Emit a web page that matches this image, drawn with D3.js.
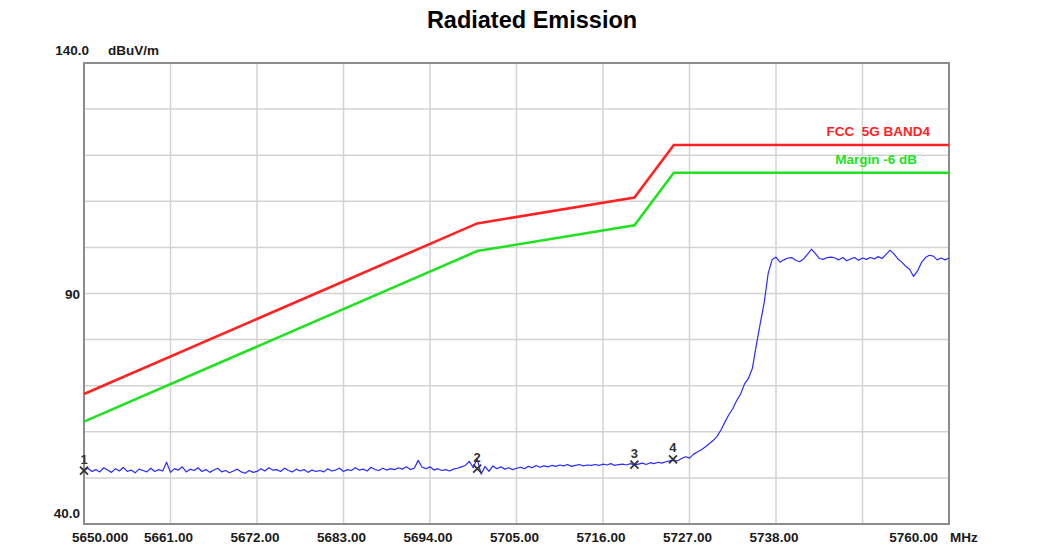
<!DOCTYPE html>
<html>
<head>
<meta charset="utf-8">
<script src="https://cdn.jsdelivr.net/npm/d3@7"></script>
<style>
  html, body { margin: 0; padding: 0; background: #fff; }
  svg { display: block; font-family: "Liberation Sans", Arial, sans-serif; }
</style>
</head>
<body>
<svg id="chart" width="1038" height="555"></svg>
<script>
// ---- data ----
const title = "Radiated Emission";
const freqDomain = [5650, 5760];
const levelDomain = [40, 140];
const xTickValues = [5650, 5661, 5672, 5683, 5694, 5705, 5716, 5727, 5738, 5749, 5760];
const xTickLabels = ["5650.000", "5661.00", "5672.00", "5683.00", "5694.00", "5705.00", "5716.00", "5727.00", "5738.00", "", "5760.00"];
const yGridValues = [40, 50, 60, 70, 80, 90, 100, 110, 120, 130, 140];
const yLabelValues = [140, 90, 40];
const yLabelTexts = ["140.0", "90", "40.0"];
const yUnit = "dBuV/m";
const xUnit = "MHz";

const limitName = "FCC\u00a0\u00a05G BAND4";
const marginName = "Margin -6 dB";
const limitFreqs = [5650, 5700, 5720, 5725, 5760];
const limitLevels = [68.2, 105.2, 110.8, 122.2, 122.2];
const marginLevels = [62.2, 99.2, 104.8, 116.2, 116.2];

// measured trace, sweep 5650..5760 MHz, 0.5 MHz step
const traceStart = 5650;
const traceStep = 0.5;
const traceLevels = [
  51.6, 52.1, 51.4, 51.8, 51.3, 52.2, 51.7, 51.2, 52.0, 51.5,
  52.3, 51.4, 51.7, 51.1, 51.9, 51.6, 51.3, 52.1, 51.4, 51.8,
  51.5, 53.4, 51.2, 52.0, 51.7, 52.4, 51.3, 51.9, 51.6, 52.2,
  51.4, 51.8, 51.2, 51.7, 52.1, 51.3, 51.6, 51.1, 51.5, 51.9,
  51.3, 51.0, 51.6, 51.2, 51.4, 52.0, 51.5, 52.2, 51.7, 51.8,
  51.4, 52.1, 51.6, 51.3, 51.9, 51.5, 51.8, 51.2, 51.7, 51.4,
  51.6, 51.3, 52.0, 51.5, 51.7, 52.1, 51.4, 51.8, 51.6, 52.2,
  51.7, 51.9, 51.5, 52.3, 51.8, 51.6, 52.1, 51.7, 52.0, 51.8,
  52.2, 51.9, 52.4, 51.8, 52.1, 53.8, 52.3, 52.0, 52.4, 51.7,
  52.0, 51.6, 51.8, 51.5, 51.9, 52.1, 52.4, 52.7, 53.6, 52.2,
  54.2, 50.8, 52.5, 51.4, 52.6, 52.0, 52.4, 51.9, 52.2, 51.8,
  52.1, 52.3, 52.0, 52.5, 52.2, 52.7, 52.3, 52.6, 52.4, 52.7,
  52.5, 52.8, 52.6, 52.9, 52.5, 52.7, 52.9, 52.6, 52.8, 52.7,
  52.9, 52.7, 53.0, 52.8, 53.1, 52.7, 52.9, 53.0, 52.8, 53.1,
  52.8, 53.0, 53.2, 52.9, 53.3, 53.1, 53.4, 53.2, 53.5, 53.7,
  53.8, 53.7, 54.2, 54.6, 54.3, 55.1, 55.6, 56.1, 56.7, 57.4,
  58.1, 59.0, 60.4, 62.1, 63.7, 65.0, 66.8, 68.2, 70.4, 71.6,
  73.8, 78.8, 83.5, 88.0, 94.3, 97.3, 97.9, 96.8, 97.3, 97.7,
  97.8, 97.2, 96.9, 97.5, 98.5, 99.6, 98.7, 97.6, 97.4, 97.8,
  97.9, 97.7, 97.3, 97.8, 97.1, 97.5, 97.8, 97.2, 97.7, 97.4,
  97.8, 97.5, 98.0, 97.6, 98.5, 99.4, 98.6, 97.5, 96.8, 95.9,
  95.2, 93.7, 94.9, 96.7, 97.8, 98.3, 98.1, 97.3, 97.7, 97.3,
  97.7
];

const markerLabels = ["1", "2", "3", "4"];
const markerFreqs = [5650.0, 5700.0, 5720.0, 5724.9];
const markerLevels = [51.6, 52.0, 52.9, 54.0];

// ---- layout ----
const plot = { left: 84, right: 949, top: 63, bottom: 524 };
const svg = d3.select("#chart");

const x = d3.scaleLinear().domain(freqDomain).range([plot.left, plot.right]);
const y = d3.scaleLinear().domain(levelDomain).range([plot.bottom, plot.top]);

// title
svg.append("text")
  .attr("x", 532).attr("y", 28)
  .attr("text-anchor", "middle")
  .attr("font-size", 23.5).attr("font-weight", "bold").attr("fill", "#000")
  .text(title);

// grid
const grid = svg.append("g");
grid.selectAll("line.v").data(xTickValues.slice(1, -1)).enter().append("line")
  .attr("x1", d => x(d)).attr("x2", d => x(d))
  .attr("y1", plot.top).attr("y2", plot.bottom)
  .attr("stroke", "#d3d3d3").attr("stroke-width", 1.5);
grid.selectAll("line.h").data(yGridValues.slice(1, -1)).enter().append("line")
  .attr("y1", d => y(d)).attr("y2", d => y(d))
  .attr("x1", plot.left).attr("x2", plot.right)
  .attr("stroke", "#d3d3d3").attr("stroke-width", 1.5);

// frame
svg.append("rect")
  .attr("x", plot.left).attr("y", plot.top)
  .attr("width", plot.right - plot.left).attr("height", plot.bottom - plot.top)
  .attr("fill", "none").attr("stroke", "#8c8c8c").attr("stroke-width", 2);

// x tick labels
const xl = svg.append("g").attr("font-size", 13.5).attr("font-weight", "bold").attr("fill", "#1a1a1a");
xTickValues.forEach((v, i) => {
  if (!xTickLabels[i]) return;
  let anchor = "middle", dx = -2;
  if (i === 0) { anchor = "start"; dx = -12; }
  if (i === xTickValues.length - 1) { anchor = "end"; dx = -11; }
  xl.append("text")
    .attr("x", x(v) + dx).attr("y", 542)
    .attr("text-anchor", anchor)
    .text(xTickLabels[i]);
});
xl.append("text").attr("x", x(freqDomain[1]) + 1).attr("y", 542).text(xUnit);

// y labels
const yl = svg.append("g").attr("font-size", 13.5).attr("font-weight", "bold").attr("fill", "#1a1a1a");
yLabelValues.forEach((v, i) => {
  let yy = y(v) + 5, xx = plot.left - 4;
  if (i === 0) { yy = y(v) - 8; xx = plot.left + 5; }
  if (i === yLabelValues.length - 1) { yy = y(v) - 6; }
  yl.append("text").attr("x", xx).attr("y", yy).attr("text-anchor", "end").text(yLabelTexts[i]);
});
yl.append("text").attr("x", plot.left + 24).attr("y", y(levelDomain[1]) - 8).text(yUnit);

// limit lines
const line = d3.line().x(d => x(d[0])).y(d => y(d[1]));
svg.append("path")
  .datum(limitFreqs.map((f, i) => [f, limitLevels[i]]))
  .attr("d", line).attr("fill", "none").attr("stroke", "#ff2222").attr("stroke-width", 2.6);
svg.append("path")
  .datum(limitFreqs.map((f, i) => [f, marginLevels[i]]))
  .attr("d", line).attr("fill", "none").attr("stroke", "#22e022").attr("stroke-width", 2.6);

svg.append("text")
  .attr("x", 930).attr("y", y(limitLevels[4]) - 9)
  .attr("text-anchor", "end").attr("font-size", 13.5).attr("font-weight", "bold")
  .attr("fill", "#ff2222")
  .text(limitName);
svg.append("text")
  .attr("x", 917).attr("y", y(marginLevels[4]) - 9)
  .attr("text-anchor", "end").attr("font-size", 13.5).attr("font-weight", "bold")
  .attr("fill", "#22e022")
  .text(marginName);

// trace
const trace = traceLevels.map((v, i) => [traceStart + i * traceStep, v]);
svg.append("path")
  .datum(trace)
  .attr("d", line).attr("fill", "none").attr("stroke", "#2b2bff").attr("stroke-width", 1.2)
  .attr("stroke-linejoin", "round");

// markers
const mk = svg.append("g");
markerFreqs.forEach((f, i) => {
  const mx = x(f), my = y(markerLevels[i]);
  mk.append("path")
    .attr("d", `M${mx - 4},${my - 4}L${mx + 4},${my + 4}M${mx + 4},${my - 4}L${mx - 4},${my + 4}`)
    .attr("stroke", "#333").attr("stroke-width", 1.8);
  mk.append("text")
    .attr("x", mx).attr("y", my - 7)
    .attr("text-anchor", "middle").attr("font-size", 13).attr("font-weight", "bold")
    .attr("fill", "#333")
    .text(markerLabels[i]);
});
</script>
</body>
</html>
